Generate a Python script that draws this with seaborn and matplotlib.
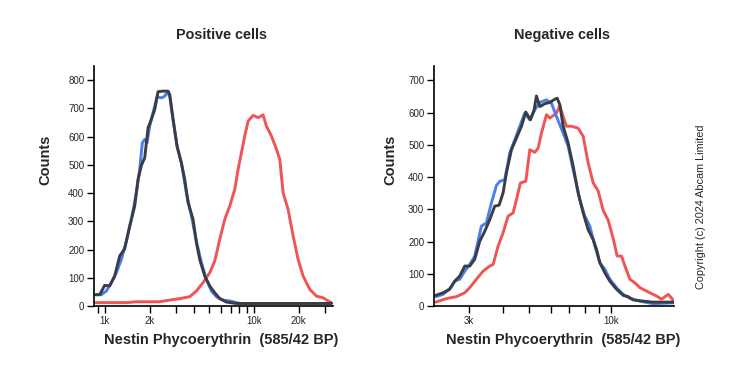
import numpy as np
import pandas as pd
import matplotlib
matplotlib.use("Agg")
import matplotlib.pyplot as plt
import seaborn as sns

# Positive cells (left panel): intensity / counts for each trace
pos_red_x = [870, 1398, 1631, 2339, 2731, 3186, 3720, 4123, 4571, 5067, 5474, 5914,
             6390, 6902, 7458, 7852, 8266, 8701, 9162, 9897, 10690, 11550, 12160,
             13140, 14200, 14950, 15740, 17000, 18370, 19840, 21430, 23760, 26340,
             29200, 31540, 33210]
pos_red_y = [12, 12, 15, 15, 21, 26, 33, 53, 83, 118, 159, 236, 307, 354, 413, 484,
             543, 602, 655, 675, 667, 677, 637, 602, 555, 519, 401, 342, 248, 165,
             106, 59, 35, 29, 18, 12]

pos_blue_x = [870, 950, 1026, 1108, 1198, 1294, 1398, 1510, 1631, 1718, 1789, 1856,
              1923, 2004, 2110, 2245, 2401, 2527, 2620, 2731, 2875, 3058, 3269, 3533,
              3817, 4123, 4456, 4813, 5200, 5616, 6225, 6902, 8054, 33210]
pos_blue_y = [40, 40, 53, 83, 118, 165, 230, 307, 401, 484, 578, 590, 578, 637, 685,
              741, 737, 743, 757, 743, 661, 566, 507, 401, 319, 230, 153, 94, 53, 33,
              21, 18, 9, 9]

pos_dark_x = [870, 926, 1000, 1080, 1167, 1261, 1362, 1472, 1590, 1674, 1763, 1856,
              1954, 2057, 2166, 2280, 2463, 2662, 2731, 2875, 3058, 3269, 3443, 3625,
              3915, 4123, 4341, 4691, 5067, 5474, 5914, 6556, 7650, 10970, 18370, 33210]
pos_dark_y = [40, 40, 73, 71, 106, 177, 203, 283, 354, 448, 498, 525, 631, 661, 696,
              759, 761, 761, 749, 661, 566, 507, 448, 366, 307, 224, 165, 106, 71, 47,
              26, 14, 9, 9, 9, 9]

# Negative cells (right panel)
neg_red_x = [2269, 2484, 2703, 2901, 3026, 3201, 3387, 3583, 3686, 3845, 4010, 4184,
             4365, 4489, 4644, 4859, 5026, 5243, 5392, 5548, 5787, 5953, 6298, 6477,
             6663, 6853, 7149, 7563, 7889, 8231, 8587, 8958, 9345, 9750, 10170, 10520,
             10910, 11230, 11710, 12210, 12740, 13290, 13870, 14670, 15300, 16200,
             16800, 16990]
neg_red_y = [12, 23, 29, 41, 57, 83, 108, 124, 129, 186, 227, 279, 289, 330, 382, 387,
             485, 477, 490, 537, 594, 583, 599, 622, 588, 558, 558, 552, 527, 444, 382,
             357, 297, 266, 209, 155, 155, 124, 83, 72, 57, 49, 41, 31, 21, 36, 21, 10]

neg_blue_x = [2269, 2414, 2555, 2665, 2780, 2901, 3026, 3156, 3339, 3484, 3634, 3791,
              3899, 4068, 4243, 4427, 4618, 4818, 5026, 5243, 5469, 5787, 6037, 6298,
              6663, 6950, 7250, 7670, 8003, 8347, 8710, 9086, 9478, 9888, 10460, 11070,
              11710, 12740, 14260, 16990]
neg_blue_y = [29, 36, 54, 77, 83, 108, 129, 155, 248, 258, 320, 374, 387, 392, 475,
              516, 558, 599, 578, 609, 632, 640, 629, 588, 537, 496, 423, 330, 279, 248,
              186, 134, 114, 83, 57, 36, 24, 15, 7, 10]

neg_dark_x = [2269, 2414, 2555, 2665, 2780, 2901, 3026, 3156, 3293, 3435, 3583, 3738,
              3877, 4010, 4125, 4303, 4489, 4684, 4859, 5054, 5213, 5317, 5469, 5706,
              5953, 6209, 6333, 6477, 6663, 6950, 7250, 7563, 7889, 8231, 8587, 8833,
              9086, 9478, 9888, 10460, 11070, 11540, 12040, 13100, 14260, 16990]
neg_dark_y = [33, 41, 52, 77, 93, 124, 124, 145, 201, 232, 268, 310, 313, 351, 413,
              485, 521, 558, 602, 578, 609, 652, 619, 628, 632, 642, 645, 625, 558, 506,
              434, 351, 289, 237, 206, 176, 134, 103, 77, 52, 33, 29, 19, 15, 12, 12]

RED = "#f05454"
BLUE = "#4a7fec"
DARK = "#3a3c46"

sns.set_style("ticks")
plt.rcParams['font.family'] = ['Liberation Sans', 'DejaVu Sans']

fig = plt.figure(figsize=(7.39, 3.70), dpi=100)
ax1 = fig.add_axes([94 / 739, 64 / 370, 239 / 739, 240 / 370])
ax2 = fig.add_axes([434 / 739, 64 / 370, 240 / 739, 240 / 370])


def draw_panel(ax, traces, xlim, ylim, yticks, major, major_labels, minor):
    for xs, ys, color in traces:
        df = pd.DataFrame({"x": xs, "y": ys})
        sns.lineplot(data=df, x="x", y="y", ax=ax, color=color, linewidth=2.1,
                     sort=False, estimator=None, solid_joinstyle="round",
                     solid_capstyle="round")
    ax.set_xscale("log")
    ax.set_xlim(*xlim)
    ax.set_ylim(*ylim)
    ax.set_xticks(major)
    ax.set_xticklabels(major_labels)
    ax.set_xticks(minor, minor=True)
    ax.set_xticklabels([], minor=True)
    ax.set_yticks(yticks)
    ax.tick_params(axis="both", which="both", labelsize=7, length=5, width=1,
                   color="black", pad=2)
    ax.set_xlabel("")
    ax.set_ylabel("")
    for s in ("top", "right"):
        ax.spines[s].set_visible(False)
    for s in ("left", "bottom"):
        ax.spines[s].set_linewidth(1.2)
        ax.spines[s].set_color("black")


draw_panel(ax1,
           [(pos_red_x, pos_red_y, RED), (pos_blue_x, pos_blue_y, BLUE),
            (pos_dark_x, pos_dark_y, DARK)],
           (848, 34000), (0, 850), range(0, 801, 100),
           [1000, 2000, 10000, 20000], ["1k", "2k", "10k", "20k"],
           [900, 3000, 4000, 5000, 6000, 7000, 8000, 9000, 30000])

draw_panel(ax2,
           [(neg_red_x, neg_red_y, RED), (neg_blue_x, neg_blue_y, BLUE),
            (neg_dark_x, neg_dark_y, DARK)],
           (2237, 17000), (0, 745), range(0, 701, 100),
           [3000, 10000], ["3k", "10k"],
           [4000, 5000, 6000, 7000, 8000, 9000])

# titles and axis labels
fig.text(221 / 739, 1 - 35 / 370, "Positive cells", ha="center", va="center",
         fontsize=10.4, fontweight="bold")
fig.text(562 / 739, 1 - 35 / 370, "Negative cells", ha="center", va="center",
         fontsize=10.4, fontweight="bold")
xlab = "Nestin Phycoerythrin  (585/42 BP)"
fig.text(221 / 739, 1 - 340 / 370, xlab, ha="center", va="center",
         fontsize=10.5, fontweight="bold")
fig.text(563 / 739, 1 - 340 / 370, xlab, ha="center", va="center",
         fontsize=10.5, fontweight="bold")
fig.text(45 / 739, 1 - 160 / 370, "Counts", ha="center", va="center",
         rotation=90, fontsize=10.5, fontweight="bold")
fig.text(390 / 739, 1 - 160 / 370, "Counts", ha="center", va="center",
         rotation=90, fontsize=10.5, fontweight="bold")
fig.text(701 / 739, 1 - 207 / 370, "Copyright (c) 2024 Abcam Limited",
         ha="center", va="center", rotation=90, fontsize=7.8)

fig.savefig("out.png", dpi=100)
